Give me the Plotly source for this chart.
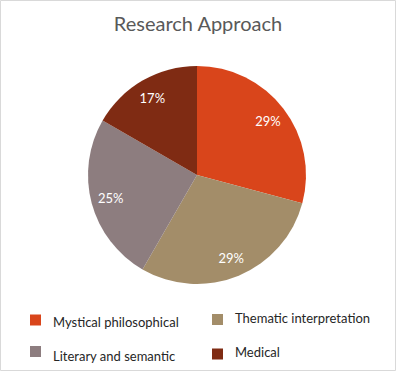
import plotly.graph_objects as go

categories = ["Mystical philosophical", "Thematic interpretation", "Literary and semantic", "Medical"]
values = [7, 7, 6, 4]
colors = ["#D9451B", "#A38D69", "#8D7D7F", "#7F2B13"]

W, H = 396, 371
cx, cy, r = 197, 175, 109
dom = dict(x=[(cx - r) / W, (cx + r) / W], y=[(H - cy - r) / H, (H - cy + r) / H])

fig = go.Figure()
fig.add_trace(go.Pie(
    labels=categories, values=values, sort=False, direction="clockwise", rotation=0,
    marker=dict(colors=colors, line=dict(width=0)),
    textinfo="none", domain=dom, hoverinfo="skip", showlegend=False,
))
# transparent ring carrying the percentage labels at ~0.82 r
fig.add_trace(go.Pie(
    labels=categories, values=values, sort=False, direction="clockwise", rotation=0, hole=0.64,
    marker=dict(colors=["rgba(0,0,0,0)"] * len(values), line=dict(width=0)),
    texttemplate="%{percent:.0%}", textposition="inside", insidetextorientation="horizontal",
    textfont=dict(color="white", size=13, family="Lato"),
    domain=dom, hoverinfo="skip", showlegend=False,
))

# legend (two columns) built from categories/colors
shapes = [dict(type="rect", xref="paper", yref="paper", x0=0.5 / W, x1=1 - 0.5 / W, y0=0.5 / H, y1=1 - 0.5 / H,
               line=dict(color="#D9D9D9", width=1))]
annotations = []
leg_pos = [(30, 320, 322), (212, 319.5, 318), (30, 351.5, 356), (212, 354, 352)]
for name, col, (mx, my, ty) in zip(categories, colors, leg_pos):
    shapes.append(dict(type="rect", xref="paper", yref="paper", x0=mx / W, x1=(mx + 11) / W,
                       y0=1 - (my + 5.5) / H, y1=1 - (my - 5.5) / H, fillcolor=col, line=dict(width=0)))
    annotations.append(dict(text=name, xref="paper", yref="paper", x=(mx + 21) / W, y=1 - ty / H,
                            xanchor="left", yanchor="middle", showarrow=False,
                            font=dict(family="Lato", size=13, color="#262626")))

fig.update_layout(
    width=W, height=H,
    margin=dict(l=0, r=0, t=0, b=0, autoexpand=False),
    paper_bgcolor="white",
    title=dict(text="Research Approach", x=0.5, xanchor="center", y=1 - 24 / H, yanchor="middle",
               font=dict(family="Lato", size=20, color="#595959")),
    showlegend=False,
    shapes=shapes,
    annotations=annotations,
)

fig.write_html("out.html")
